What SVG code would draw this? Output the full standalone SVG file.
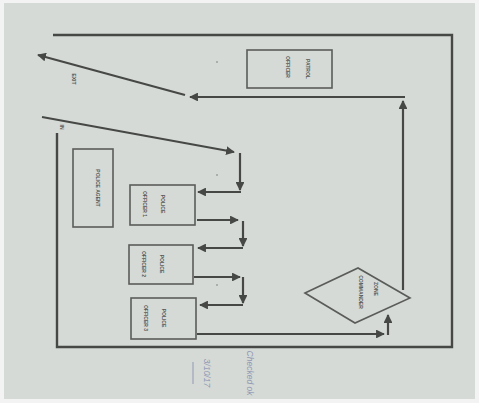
<svg xmlns="http://www.w3.org/2000/svg" width="479" height="403" viewBox="0 0 479 403">
<defs>
<marker id="ah" viewBox="0 0 10 10" refX="9" refY="5" markerWidth="4" markerHeight="4" orient="auto" markerUnits="strokeWidth">
<path d="M0,0 L10,5 L0,10 z" fill="#464846"/>
</marker>
<style>
.ln{fill:none;stroke:#464846;stroke-width:2.4}
.cn{fill:none;stroke:#464846;stroke-width:2.2;marker-end:url(#ah)}
.bx{fill:none;stroke:#5a5c5a;stroke-width:1.6}
.t{font-family:"Liberation Sans",Arial,sans-serif;font-size:5px;font-weight:bold;fill:#555755;text-anchor:middle}
.h{font-family:"Liberation Sans",Arial,sans-serif;font-size:8.5px;fill:#9098b4;text-anchor:middle;font-style:italic}
</style>
</defs>
<rect x="0" y="0" width="479" height="403" fill="#f2f3f2"/>
<rect x="4" y="3" width="471" height="396" fill="#d6dad6"/>
<g id="frame">
<path class="ln" d="M53,35 H452 V347 H57 V133"/>
<text class="t" transform="translate(60,127) rotate(90)">IN</text>
<text class="t" transform="translate(72,79) rotate(90)">EXIT</text>
</g>
<g id="patrol-officer">
<rect class="bx" x="247" y="50" width="85" height="38"/>
<text class="t" transform="translate(306,69) rotate(90)">PATROL</text>
<text class="t" transform="translate(286,67) rotate(90)">OFFICER</text>
</g>
<g id="police-agent">
<rect class="bx" x="73" y="149" width="40" height="78"/>
<text class="t" transform="translate(96,188) rotate(90)">POLICE AGENT</text>
</g>
<g id="officer1">
<rect class="bx" x="130" y="185" width="65" height="40"/>
<text class="t" transform="translate(161,204) rotate(90)">POLICE</text>
<text class="t" transform="translate(143,204) rotate(90)">OFFICER 1</text>
</g>
<g id="officer2">
<rect class="bx" x="129" y="245" width="64" height="39"/>
<text class="t" transform="translate(160,264) rotate(90)">POLICE</text>
<text class="t" transform="translate(142,264) rotate(90)">OFFICER 2</text>
</g>
<g id="officer3">
<rect class="bx" x="131" y="298" width="65" height="41"/>
<text class="t" transform="translate(162,318) rotate(90)">POLICE</text>
<text class="t" transform="translate(144,318) rotate(90)">OFFICER 3</text>
</g>
<g id="decision">
<path class="bx" d="M305,293 L358,268 L410,298 L355,323 Z"/>
<text class="t" transform="translate(374,289) rotate(90)">ZONE</text>
<text class="t" transform="translate(359,292) rotate(90)">COMMANDER</text>
</g>
<g id="connectors">
<path class="cn" d="M185,95 L38,55"/>
<path class="cn" d="M403,290 V101"/>
<path class="cn" d="M405,97 H190"/>
<path class="cn" d="M42,117 L234,152"/>
<path class="cn" d="M240,153 V190"/>
<path class="cn" d="M241,192 H198"/>
<path class="cn" d="M197,220 H238"/>
<path class="cn" d="M243,221 V246"/>
<path class="cn" d="M243,248 H198"/>
<path class="cn" d="M194,277 H240"/>
<path class="cn" d="M243,277 V303"/>
<path class="cn" d="M243,305 H200"/>
<path class="cn" d="M197,334 H384"/>
<path class="cn" d="M388,335 V315"/>
</g>
<g id="notes">
<circle cx="217" cy="62" r="0.8" fill="#777"/>
<circle cx="217" cy="175" r="0.8" fill="#777"/>
<circle cx="217" cy="285" r="0.8" fill="#777"/>
<text class="h" transform="translate(247,373) rotate(90)">Checked ok</text>
<text class="h" transform="translate(204,373) rotate(90)">3/10/17</text>
<path d="M193,362 V384" stroke="#9098b4" stroke-width="1" fill="none"/>
</g>
</svg>
